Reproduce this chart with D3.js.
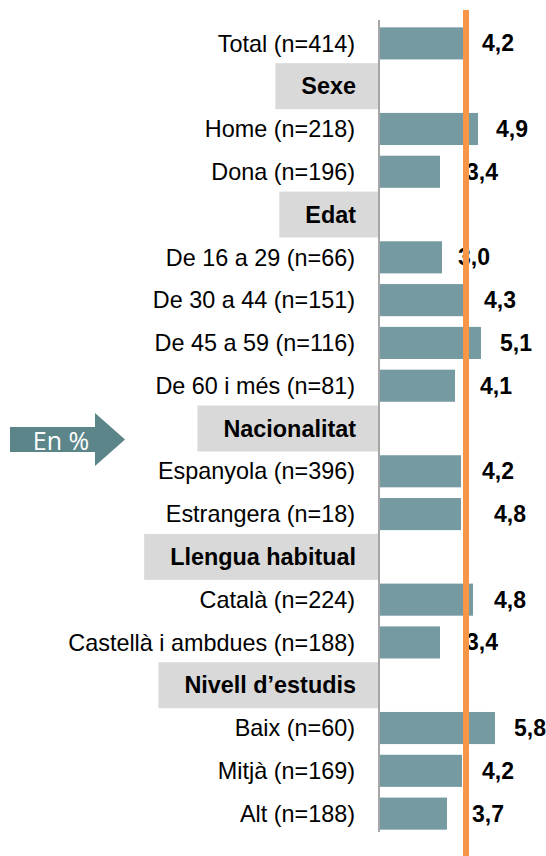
<!DOCTYPE html>
<html>
<head>
<meta charset="utf-8">
<script src="https://cdn.jsdelivr.net/npm/d3@7"></script>
<style>
  html, body { margin: 0; padding: 0; background: #ffffff; }
  svg { display: block; }
</style>
</head>
<body>
<svg id="chart" width="546" height="856"></svg>
<script>
// ---- data ----
const categories = [
  "Total (n=414)", "Sexe", "Home (n=218)", "Dona (n=196)", "Edat",
  "De 16 a 29 (n=66)", "De 30 a 44 (n=151)", "De 45 a 59 (n=116)", "De 60 i més (n=81)",
  "Nacionalitat", "Espanyola (n=396)", "Estrangera (n=18)",
  "Llengua habitual", "Català (n=224)", "Castellà i ambdues (n=188)",
  "Nivell d’estudis", "Baix (n=60)", "Mitjà (n=169)", "Alt (n=188)"
];
const headers = ["Sexe", "Edat", "Nacionalitat", "Llengua habitual", "Nivell d’estudis"];
// bar lengths as drawn in the picture
const barValues = [4.2, null, 4.95, 3.05, null, 3.15, 4.3, 5.1, 3.8, null, 4.1, 4.1, null, 4.7, 3.05, null, 5.8, 4.15, 3.4];
// value labels as printed
const labelValues = ["4,2", null, "4,9", "3,4", null, "3,0", "4,3", "5,1", "4,1", null, "4,2", "4,8", null, "4,8", "3,4", null, "5,8", "4,2", "3,7"];
const referenceValue = 4.35;
const unitLabel = "En %";

// ---- layout ----
const svg = d3.select("#chart");
const FONT = "'Liberation Sans', Arial, sans-serif";
const axisX = 379;
const x = d3.scaleLinear().domain([0, 6]).range([axisX, axisX + 120]);
const y = d3.scaleBand().domain(categories).range([22, 835]).paddingInner(0.25).paddingOuter(0.125);
const center = c => y(c) + y.bandwidth() / 2;
const labelRight = 356;

const rows = categories.map((c, i) => ({
  cat: c, header: headers.includes(c), v: barValues[i], lab: labelValues[i]
}));

// header boxes + header text
const hdr = svg.append("g").selectAll("g").data(rows.filter(d => d.header)).join("g");
const hdrText = hdr.append("text")
  .attr("x", labelRight).attr("y", d => center(d.cat)).attr("dy", "0.35em")
  .attr("text-anchor", "end")
  .style("font-family", FONT).style("font-size", "23.4px").style("font-weight", "bold")
  .attr("fill", "#000").text(d => d.cat);
hdrText.each(function(d) { d.tw = this.getComputedTextLength(); });
hdr.insert("rect", "text")
  .attr("x", d => labelRight - d.tw - 26)
  .attr("y", d => center(d.cat) - 23)
  .attr("width", d => axisX - (labelRight - d.tw - 26))
  .attr("height", 46)
  .attr("fill", "#d9d9d9");

// bars
const dataRows = rows.filter(d => !d.header);
svg.append("g").selectAll("rect").data(dataRows).join("rect")
  .attr("x", x(0) + 1)
  .attr("y", d => y(d.cat))
  .attr("width", d => x(d.v) - x(0) - 1)
  .attr("height", y.bandwidth())
  .attr("fill", "#769aa2");

// category labels
svg.append("g").selectAll("text").data(dataRows).join("text")
  .attr("x", labelRight - 1).attr("y", d => center(d.cat)).attr("dy", "0.35em")
  .attr("text-anchor", "end")
  .style("font-family", FONT).style("font-size", "23.4px")
  .attr("fill", "#000").text(d => d.cat);

// value labels
svg.append("g").selectAll("text").data(dataRows).join("text")
  .attr("x", d => x(+d.lab.replace(",", ".")) + 19)
  .attr("y", d => center(d.cat)).attr("dy", "0.35em")
  .style("font-family", FONT).style("font-size", "23px").style("font-weight", "bold")
  .attr("fill", "#000").text(d => d.lab);

// axis line
svg.append("line")
  .attr("x1", axisX).attr("x2", axisX).attr("y1", 20).attr("y2", 832)
  .attr("stroke", "#a6a6a6").attr("stroke-width", 2);

// reference line
svg.append("line")
  .attr("x1", x(referenceValue)).attr("x2", x(referenceValue))
  .attr("y1", 10).attr("y2", 856)
  .attr("stroke", "#f79646").attr("stroke-width", 6);

// arrow "En %"
const ar = svg.append("g");
ar.append("path")
  .attr("d", "M10,427 L95,427 L95,413 L125,439.5 L95,466 L95,452 L10,452 Z")
  .attr("fill", "#5b8589");
ar.append("text")
  .attr("x", 61).attr("y", 441).attr("dy", "0.36em")
  .attr("text-anchor", "middle")
  .style("font-family", "'Open Sans', Lato, sans-serif").style("font-size", "25px")
  .attr("fill", "#ffffff").text(unitLabel);
</script>
</body>
</html>
